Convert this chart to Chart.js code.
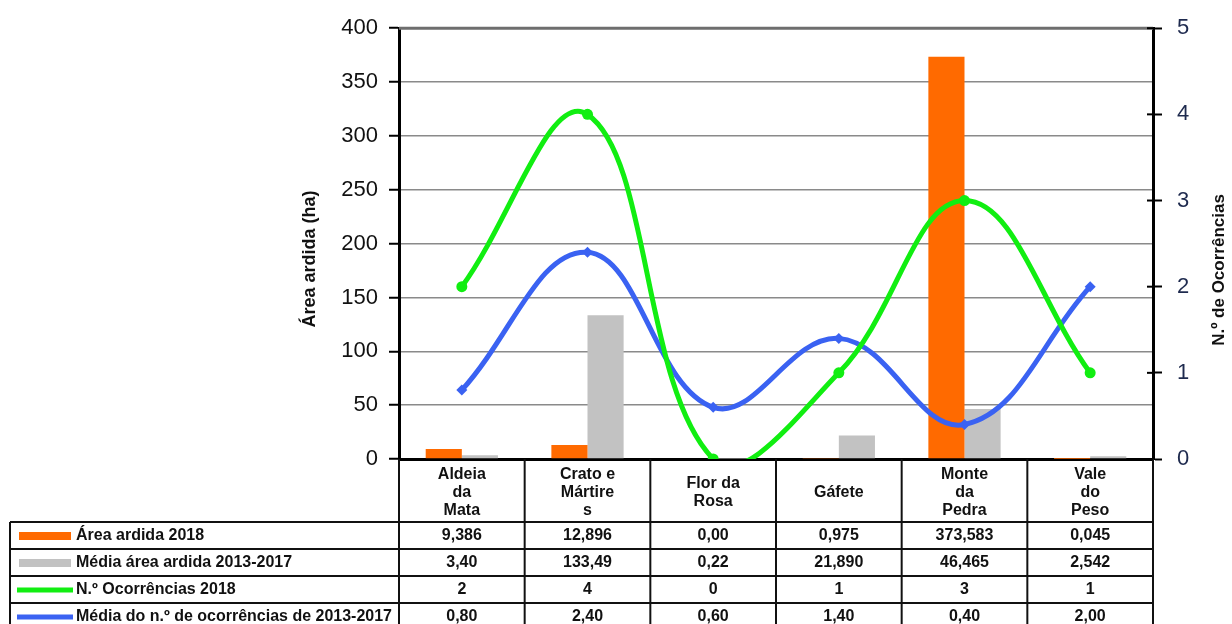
<!DOCTYPE html>
<html lang="pt">
<head>
<meta charset="utf-8">
<title>Área ardida e ocorrências por freguesia</title>
<script src="https://cdn.jsdelivr.net/npm/chart.js@4.4.1/dist/chart.umd.min.js"></script>
<style>
  html, body { margin: 0; padding: 0; background: #ffffff; }
  #wrap { width: 1232px; height: 624px; position: relative; overflow: hidden; }
  canvas { display: block; }
</style>
</head>
<body>
<div id="wrap"><canvas id="grafico" width="1232" height="624"></canvas></div>
<script>
// Freguesias (categorias do eixo X, já partidas em linhas)
const freguesias = [['Aldeia', 'da', 'Mata'], ['Crato e', 'Mártire', 's'], ['Flor da', 'Rosa'], 'Gáfete', ['Monte', 'da', 'Pedra'], ['Vale', 'do', 'Peso']];

// Valores da tabela (formato português); as barras e linhas usam estes mesmos valores
const areaArdida2018   = ['9,386', '12,896', '0,00', '0,975', '373,583', '0,045'];
const mediaAreaArdida  = ['3,40', '133,49', '0,22', '21,890', '46,465', '2,542'];
const ocorrencias2018  = ['2', '4', '0', '1', '3', '1'];
const mediaOcorrencias = ['0,80', '2,40', '0,60', '1,40', '0,40', '2,00'];

const nomesSeries = ['Área ardida 2018', 'Média área ardida 2013-2017', 'N.º Ocorrências 2018', 'Média do n.º de ocorrências de 2013-2017'];

// Marcas dos eixos
const ticksArea = [0, 50, 100, 150, 200, 250, 300, 350, 400];
const ticksOcorrencias = [0, 1, 2, 3, 4, 5];

const tituloEsquerdo = 'Área ardida (ha)';
const tituloDireito = 'N.º de Ocorrências';

const toNum = s => parseFloat(String(s).replace(',', '.'));

const FONTE = "'Liberation Sans', Arial, Helvetica, sans-serif";
const COR_LARANJA = '#FF6A00';
const COR_CINZA = '#C2C2C2';
const COR_VERDE = '#11EE11';
const COR_AZUL = '#3A62F2';

// Tabela de dados por baixo do gráfico, alinhada com as colunas do eixo X
const tabelaPlugin = {
  id: 'tabelaDados',
  afterDraw(chart) {
    const ctx = chart.ctx;
    const xs = chart.scales.x;
    const area = chart.chartArea;
    const n = freguesias.length;
    const edges = [];
    for (let i = 0; i <= n; i++) edges.push(xs.getPixelForValue(i - 0.5));
    const headerTop = area.bottom;
    const rowTop = xs.bottom;
    const rowH = 27;
    const tableLeft = 10;
    const linhas = [areaArdida2018, mediaAreaArdida, ocorrencias2018, mediaOcorrencias];
    const cores = [COR_LARANJA, COR_CINZA, COR_VERDE, COR_AZUL];

    ctx.save();
    ctx.strokeStyle = '#111';
    ctx.lineWidth = 2;
    // linhas horizontais
    for (let r = 0; r <= linhas.length; r++) {
      const y = rowTop + r * rowH;
      ctx.beginPath();
      ctx.moveTo(tableLeft, y);
      ctx.lineTo(edges[n], y);
      ctx.stroke();
    }
    // linhas verticais
    const bottom = rowTop + linhas.length * rowH;
    ctx.beginPath();
    ctx.moveTo(tableLeft, rowTop);
    ctx.lineTo(tableLeft, bottom);
    ctx.stroke();
    edges.forEach(x => {
      ctx.beginPath();
      ctx.moveTo(x, headerTop);
      ctx.lineTo(x, bottom);
      ctx.stroke();
    });

    // legenda e valores
    ctx.textBaseline = 'middle';
    linhas.forEach((valores, r) => {
      const yc = rowTop + r * rowH + rowH / 2 + 0.5;
      if (r < 2) {
        ctx.fillStyle = cores[r];
        ctx.fillRect(19, yc - 4, 52, 8);
      } else {
        ctx.strokeStyle = cores[r];
        ctx.lineWidth = 5;
        ctx.beginPath();
        ctx.moveTo(17, yc);
        ctx.lineTo(73, yc);
        ctx.stroke();
      }
      ctx.fillStyle = '#111';
      ctx.font = 'bold 16px ' + FONTE;
      ctx.textAlign = 'left';
      const w = ctx.measureText(nomesSeries[r]).width;
      ctx.fillText(nomesSeries[r], 76, yc, Math.min(w, 316));
      ctx.font = 'bold 16px ' + FONTE;
      ctx.textAlign = 'center';
      valores.forEach((v, i) => {
        ctx.fillText(v, xs.getPixelForValue(i), yc);
      });
    });
    ctx.restore();
  }
};

// Moldura superior, marcas do eixo direito que atravessam o eixo e títulos dos eixos
const molduraPlugin = {
  id: 'moldura',
  afterDatasetsDraw(chart) {
    const ctx = chart.ctx;
    const area = chart.chartArea;
    ctx.save();
    ctx.strokeStyle = '#6e6e6e';
    ctx.lineWidth = 3;
    ctx.beginPath();
    ctx.moveTo(area.left, area.top);
    ctx.lineTo(area.right, area.top);
    ctx.stroke();
    ctx.restore();
  },
  afterDraw(chart) {
    const ctx = chart.ctx;
    const area = chart.chartArea;
    const y1 = chart.scales.y1;
    ctx.save();
    ctx.strokeStyle = '#000';
    ctx.lineWidth = 2;
    ticksOcorrencias.forEach(v => {
      const y = y1.getPixelForValue(v);
      ctx.beginPath();
      ctx.moveTo(area.right - 6, y);
      ctx.lineTo(area.right, y);
      ctx.stroke();
    });
    ctx.fillStyle = '#111';
    ctx.font = 'bold 18px ' + FONTE;
    ctx.textAlign = 'center';
    ctx.textBaseline = 'middle';
    ctx.translate(310, 259);
    ctx.rotate(-Math.PI / 2);
    ctx.fillText(tituloEsquerdo, 0, 0);
    ctx.restore();

    ctx.save();
    ctx.fillStyle = '#111';
    ctx.font = 'bold 17px ' + FONTE;
    ctx.textAlign = 'center';
    ctx.textBaseline = 'middle';
    ctx.translate(1219, 270);
    ctx.rotate(-Math.PI / 2);
    ctx.fillText(tituloDireito, 0, 0);
    ctx.restore();
  }
};

const barras = { barPercentage: 1.0, categoryPercentage: 0.575 };

new Chart(document.getElementById('grafico'), {
  type: 'bar',
  data: {
    labels: freguesias,
    datasets: [
      Object.assign({
        type: 'bar', label: nomesSeries[0], data: areaArdida2018.map(toNum),
        backgroundColor: COR_LARANJA, yAxisID: 'y', order: 3
      }, barras),
      Object.assign({
        type: 'bar', label: nomesSeries[1], data: mediaAreaArdida.map(toNum),
        backgroundColor: COR_CINZA, yAxisID: 'y', order: 3
      }, barras),
      {
        type: 'line', label: nomesSeries[2], data: ocorrencias2018.map(toNum),
        borderColor: COR_VERDE, backgroundColor: COR_VERDE, borderWidth: 5,
        tension: 0.4, pointStyle: 'circle', pointRadius: 5.5, pointBorderWidth: 0,
        yAxisID: 'y1', order: 1
      },
      {
        type: 'line', label: nomesSeries[3], data: mediaOcorrencias.map(toNum),
        borderColor: COR_AZUL, backgroundColor: COR_AZUL, borderWidth: 5,
        tension: 0.4, pointStyle: 'rectRot', pointRadius: 5.5, pointBorderWidth: 0,
        yAxisID: 'y1', order: 2
      }
    ]
  },
  options: {
    responsive: false,
    animation: false,
    devicePixelRatio: 1,
    layout: { padding: { top: 27, left: 0, right: 0, bottom: 102 } },
    elements: { line: { capBezierPoints: false } },
    plugins: { legend: { display: false }, tooltip: { enabled: false } },
    scales: {
      x: {
        grid: { display: false, drawTicks: false },
        border: { display: true, color: '#000', width: 3 },
        ticks: {
          color: '#111', autoSkip: false, maxRotation: 0, minRotation: 0,
          crossAlign: 'center', padding: 16,
          font: { family: FONTE, size: 16, weight: 'bold', lineHeight: 1.1 }
        },
        afterFit(s) { s.height = 63; }
      },
      y: {
        position: 'left', min: 0, max: 400,
        afterBuildTicks(s) { s.ticks = ticksArea.map(v => ({ value: v })); },
        ticks: { color: '#111', padding: 11, font: { family: FONTE, size: 22 } },
        grid: { color: '#8a8a8a', lineWidth: 1.5, tickColor: '#000', tickLength: 10, tickWidth: 2 },
        border: { color: '#000', width: 3 },
        afterFit(s) { s.width = 399; }
      },
      y1: {
        position: 'right', min: 0, max: 5,
        afterBuildTicks(s) { s.ticks = ticksOcorrencias.map(v => ({ value: v })); },
        ticks: { color: '#1e2a4e', padding: 15, font: { family: FONTE, size: 22 } },
        grid: { drawOnChartArea: false, tickColor: '#000', tickLength: 9, tickWidth: 2 },
        border: { color: '#000', width: 3 },
        afterFit(s) { s.width = 79; }
      }
    }
  },
  plugins: [tabelaPlugin, molduraPlugin]
});
</script>
</body>
</html>
